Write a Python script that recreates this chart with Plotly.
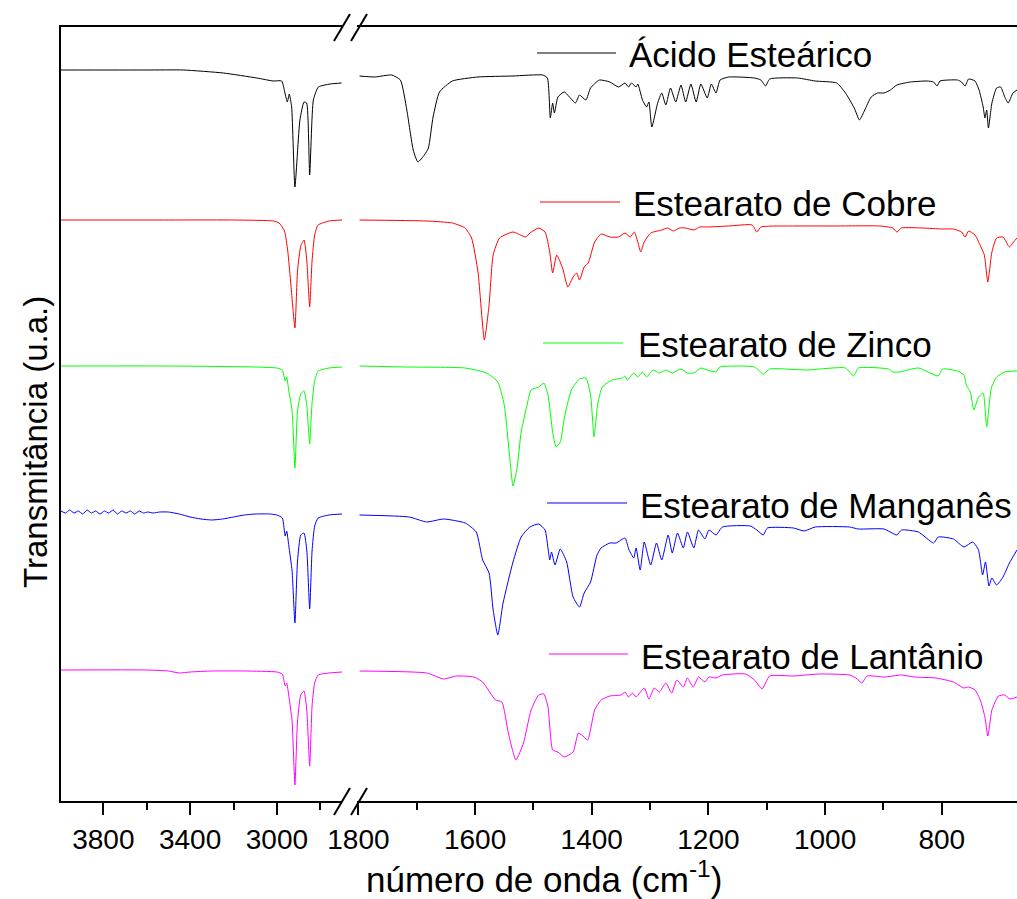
import plotly.graph_objects as go

# ---------------- data (wavenumber cm-1, transmittance in arbitrary units incl. vertical offset) -------------
WN_ACIDO = [3995, 3600, 3431, 3247, 3093, 3017, 2978, 2963, 2952, 2943, 2932, 2917, 2894, 2875, 2863, 2849, 2832, 2809, 2755, 2702,
            1798, 1772, 1743, 1728, 1717, 1706, 1698, 1687, 1680, 1672, 1661, 1639, 1595, 1535, 1484, 1476, 1471, 1467, 1464, 1458,
            1447, 1428, 1421, 1410, 1402, 1387, 1369, 1354, 1343, 1337, 1332, 1324, 1321, 1313, 1306, 1302, 1297, 1287, 1280, 1273,
            1265, 1256, 1247, 1239, 1230, 1221, 1213, 1202, 1195, 1187, 1180, 1165, 1121, 1110, 1102, 1095, 1047, 1017, 980, 965,
            950, 941, 932, 921, 910, 899, 888, 877, 854, 825, 814, 808, 803, 773, 766, 760, 754, 743, 736, 729,
            726, 723, 720, 714, 706, 699, 692, 686, 678, 671]
T_ACIDO = [731, 731, 731, 728, 723, 720, 720, 708, 699, 707, 694, 614, 681, 699, 698, 626, 701, 714, 717, 718,
           725, 724, 726, 721, 691, 651, 639, 646, 653, 684, 709, 720, 724, 725, 726, 723, 683, 698, 688, 704,
           709, 698, 706, 701, 713, 721, 719, 714, 718, 714, 718, 714, 717, 701, 694, 699, 674, 698, 708, 696,
           713, 699, 716, 699, 717, 699, 717, 703, 717, 708, 721, 724, 723, 721, 715, 722, 723, 720, 718, 708,
           693, 681, 691, 704, 708, 708, 711, 716, 719, 720, 719, 715, 720, 721, 719, 715, 722, 720, 711, 694,
           683, 691, 673, 698, 713, 714, 704, 698, 708, 711]

WN_COBRE = [3995, 3500, 3200, 3017, 2990, 2965, 2950, 2935, 2917, 2905, 2890, 2875, 2862, 2849, 2838, 2826, 2810, 2760, 2700,
            1798, 1683, 1639, 1617, 1606, 1595, 1584, 1576, 1569, 1558, 1535, 1513, 1506, 1491, 1480, 1472, 1467, 1460, 1450, 1441,
            1432, 1426, 1421, 1413, 1406, 1395, 1384, 1369, 1354, 1343, 1334, 1327, 1321, 1316, 1310, 1299, 1280, 1270, 1260, 1250,
            1239, 1225, 1215, 1202, 1165, 1125, 1117, 1110, 1054, 980, 906, 884, 877, 869, 832, 800, 780, 766, 760, 754,
            743, 732, 727, 721, 714, 706, 695, 684, 677, 671]
T_COBRE = [581, 581, 581, 580, 578, 570, 550, 515, 473, 530, 555, 561, 540, 494, 540, 566, 576, 580, 581,
           581, 580, 578, 573, 563, 529, 461, 496, 546, 563, 569, 564, 568, 573, 569, 549, 528, 546, 533, 514,
           524, 528, 521, 534, 538, 559, 567, 564, 564, 568, 564, 569, 559, 549, 559, 568, 571, 573, 570, 573,
           573, 571, 574, 574, 575, 576, 569, 574, 575, 575, 575, 573, 569, 573, 573, 572, 572, 569, 564, 570,
           566, 553, 546, 519, 549, 563, 564, 554, 559, 563]

WN_ZINCO = [3995, 3500, 3100, 3000, 2975, 2962, 2955, 2945, 2930, 2917, 2905, 2890, 2875, 2862, 2849, 2838, 2826, 2810, 2760, 2700,
            1798, 1720, 1617, 1580, 1561, 1550, 1541, 1535, 1528, 1521, 1512, 1504, 1491, 1482, 1475, 1467, 1461, 1454, 1447, 1435,
            1421, 1410, 1402, 1396, 1390, 1382, 1365, 1347, 1343, 1339, 1328, 1321, 1313, 1306, 1295, 1284, 1273, 1262, 1247, 1236,
            1225, 1213, 1202, 1187, 1180, 1121, 1106, 1095, 1032, 965, 951, 943, 891, 884, 873, 840, 806, 799, 773, 762,
            758, 751, 745, 737, 729, 723, 715, 706, 692, 671]
T_ZINCO = [435, 435, 434, 433, 431, 420, 424, 410, 390, 333, 390, 407, 410, 395, 357, 398, 420, 430, 433, 434,
           435, 434, 433, 428, 419, 396, 346, 315, 333, 369, 393, 411, 414, 418, 406, 369, 354, 359, 383, 411,
           422, 423, 406, 364, 396, 414, 421, 423, 425, 421, 428, 424, 429, 424, 431, 428, 431, 428, 432, 428,
           428, 433, 431, 429, 434, 434, 427, 432, 431, 433, 425, 433, 432, 429, 429, 433, 425, 432, 430, 426,
           416, 409, 391, 404, 408, 374, 413, 424, 429, 430]

WN_MANGANES = [3995, 3975, 3955, 3935, 3915, 3895, 3875, 3855, 3835, 3815, 3795, 3775, 3755, 3735, 3715, 3695, 3675, 3655, 3635, 3615,
               3595, 3570, 3540, 3500, 3450, 3400, 3350, 3300, 3250, 3200, 3150, 3100, 3030, 3000, 2975, 2962, 2955, 2945, 2930, 2917,
               2905, 2890, 2875, 2862, 2849, 2838, 2826, 2810, 2760, 2700,
               1798, 1713, 1683, 1654, 1617, 1598, 1587, 1576, 1569, 1561, 1552, 1535, 1521, 1506, 1491, 1480, 1472, 1469, 1463, 1454,
               1443, 1432, 1421, 1413, 1402, 1391, 1384, 1369, 1358, 1343, 1336, 1328, 1324, 1317, 1310, 1299, 1289, 1280, 1269, 1262,
               1253, 1243, 1236, 1225, 1217, 1206, 1199, 1187, 1176, 1128, 1117, 1106, 1099, 1054, 1036, 1017, 958, 943, 899, 877,
               869, 840, 814, 806, 780, 762, 747, 737, 730, 725, 719, 714, 706, 695, 684, 671]
T_MANGANES = [290, 288, 291, 288, 290, 287, 291, 288, 290, 287, 290, 288, 291, 287, 290, 288, 290, 287, 290, 288,
              289, 288, 289, 289, 287, 284, 282, 281, 282, 284, 286, 287, 287, 286, 283, 265, 270, 255, 230, 178,
              240, 266, 268, 250, 192, 250, 275, 283, 286, 287,
              286, 284, 279, 282, 278, 269, 241, 228, 191, 166, 198, 239, 264, 274, 277, 271, 241, 249, 236, 252,
              239, 204, 194, 208, 219, 246, 253, 258, 258, 263, 251, 243, 253, 231, 259, 236, 258, 241, 266, 248,
              268, 253, 269, 253, 271, 262, 271, 266, 274, 275, 271, 266, 273, 273, 270, 274, 274, 272, 272, 266,
              271, 269, 258, 264, 262, 254, 259, 251, 226, 239, 215, 223, 216, 224, 238, 251]

WN_LANTANIO = [3995, 3600, 3500, 3450, 3400, 3300, 3150, 3000, 2975, 2962, 2955, 2945, 2930, 2917, 2905, 2890, 2875, 2862, 2849, 2838,
               2826, 2810, 2760, 2700,
               1798, 1683, 1654, 1632, 1602, 1587, 1565, 1554, 1543, 1530, 1517, 1504, 1491, 1482, 1475, 1467, 1458, 1447, 1432, 1423,
               1417, 1407, 1395, 1384, 1369, 1350, 1343, 1337, 1330, 1324, 1310, 1302, 1293, 1284, 1273, 1263, 1254, 1243, 1236, 1226,
               1217, 1206, 1199, 1187, 1176, 1136, 1121, 1108, 1095, 1054, 1010, 958, 947, 937, 928, 899, 869, 847, 810, 780,
               762, 754, 743, 734, 726, 721, 714, 703, 692, 683, 671]
T_LANTANIO = [131, 131, 130, 128, 129, 130, 130, 129, 127, 115, 118, 105, 80, 16, 80, 106, 110, 90, 35, 95,
              118, 126, 128, 129,
              130, 128, 122, 125, 124, 119, 101, 99, 68, 41, 58, 91, 106, 107, 94, 51, 49, 44, 49, 68,
              66, 61, 91, 101, 105, 106, 109, 104, 108, 104, 113, 102, 113, 109, 118, 108, 121, 114, 123, 114,
              124, 119, 124, 123, 126, 127, 121, 112, 125, 125, 127, 126, 123, 118, 125, 124, 126, 124, 123, 119,
              113, 114, 111, 101, 84, 65, 91, 105, 106, 102, 104]

SERIES = ["Ácido Esteárico", "Estearato de Cobre", "Estearato de Zinco", "Estearato de Manganês", "Estearato de Lantânio"]
COLORS = ["#000000", "#FF0000", "#00FF00", "#0000FF", "#FF00FF"]
DATA = [(WN_ACIDO, T_ACIDO), (WN_COBRE, T_COBRE), (WN_ZINCO, T_ZINCO),
        (WN_MANGANES, T_MANGANES), (WN_LANTANIO, T_LANTANIO)]

TICKS_HIGH = [3800, 3400, 3000]
MINOR_HIGH = [3600, 3200, 2800]
TICKS_LOW = [1800, 1600, 1400, 1200, 1000, 800]
MINOR_LOW = [1700, 1500, 1300, 1100, 900]

# ---------------- layout geometry (pixels) ----------------
W, H = 1017, 899
ML, MR, MT, MB = 61, 0, 27, 98
PW, PH = W - ML - MR, H - MT - MB


def px(x):
    return (x - ML) / PW


def py(y):
    return (H - MB - y) / PH


FONT = "Arial, 'Liberation Sans', sans-serif"

fig = go.Figure()
for name, color, (wn, t) in zip(SERIES, COLORS, DATA):
    hi = [(w, v) for w, v in zip(wn, t) if w > 2000]
    lo = [(w, v) for w, v in zip(wn, t) if w <= 2000]
    for seg, xa in ((hi, "x"), (lo, "x2")):
        fig.add_trace(go.Scatter(x=[p[0] for p in seg], y=[p[1] for p in seg], mode="lines",
                                 line=dict(color=color, width=1, shape="spline", smoothing=0.5),
                                 name=name, showlegend=False, xaxis=xa, yaxis="y"))

axis_common = dict(showline=True, linewidth=2, linecolor="black", mirror=True,
                   ticks="outside", ticklen=12, tickwidth=2, tickcolor="black",
                   showgrid=False, zeroline=False,
                   tickfont=dict(family=FONT, size=28, color="black"))

fig.update_layout(
    width=W, height=H,
    margin=dict(l=ML, r=MR, t=MT, b=MB),
    paper_bgcolor="white", plot_bgcolor="white",
    showlegend=False,
    xaxis=dict(domain=[0, px(342)], range=[3995, 2700], tickmode="array", tickvals=TICKS_HIGH,
               minor=dict(tickvals=MINOR_HIGH, ticks="outside", ticklen=7, tickwidth=2, tickcolor="black"),
               anchor="y", **axis_common),
    xaxis2=dict(domain=[px(357), 1], range=[1802.4, 671], tickmode="array", tickvals=TICKS_LOW,
                minor=dict(tickvals=MINOR_LOW, ticks="outside", ticklen=7, tickwidth=2, tickcolor="black"),
                anchor="y", **axis_common),
    yaxis=dict(range=[0, 774], showline=True, linewidth=2, linecolor="black", ticks="",
               showticklabels=False, showgrid=False, zeroline=False, anchor="x"),
)

shapes = []
# axis break marks
for yb in (815, 41):
    for x0 in (334, 351):
        shapes.append(dict(type="line", xref="paper", yref="paper",
                           x0=px(x0), y0=py(yb), x1=px(x0 + 16), y1=py(yb - 27),
                           line=dict(color="black", width=2)))

# legend (sample line + label next to each spectrum)
LEG = [(537, 616, 53, 627), (540, 620, 202, 631), (543, 623, 343, 636), (547, 627, 503, 638), (549, 628, 654, 639)]
annotations = []
for (x0, x1, yl, xt), name, color in zip(LEG, SERIES, COLORS):
    shapes.append(dict(type="line", xref="paper", yref="paper", x0=px(x0), x1=px(x1),
                       y0=py(yl), y1=py(yl), line=dict(color=color, width=1)))
    annotations.append(dict(text=name, xref="paper", yref="paper", x=px(xt), y=py(yl + 2),
                            xanchor="left", yanchor="middle", showarrow=False,
                            font=dict(family=FONT, size=35, color="black")))

annotations.append(dict(text="número de onda (cm<sup>-1</sup>)", xref="paper", yref="paper",
                        x=px(544), y=py(877), xanchor="center", yanchor="middle", showarrow=False,
                        font=dict(family=FONT, size=35, color="black")))
annotations.append(dict(text="Transmitância (u.a.)", xref="paper", yref="paper",
                        x=px(35), y=py(442), xanchor="center", yanchor="middle", showarrow=False,
                        textangle=-90, font=dict(family=FONT, size=33, color="black")))

fig.update_layout(shapes=shapes, annotations=annotations)
fig.write_html("out.html", config={"displayModeBar": False},
               post_script="document.body.style.margin='0';document.body.style.overflow='hidden';")
